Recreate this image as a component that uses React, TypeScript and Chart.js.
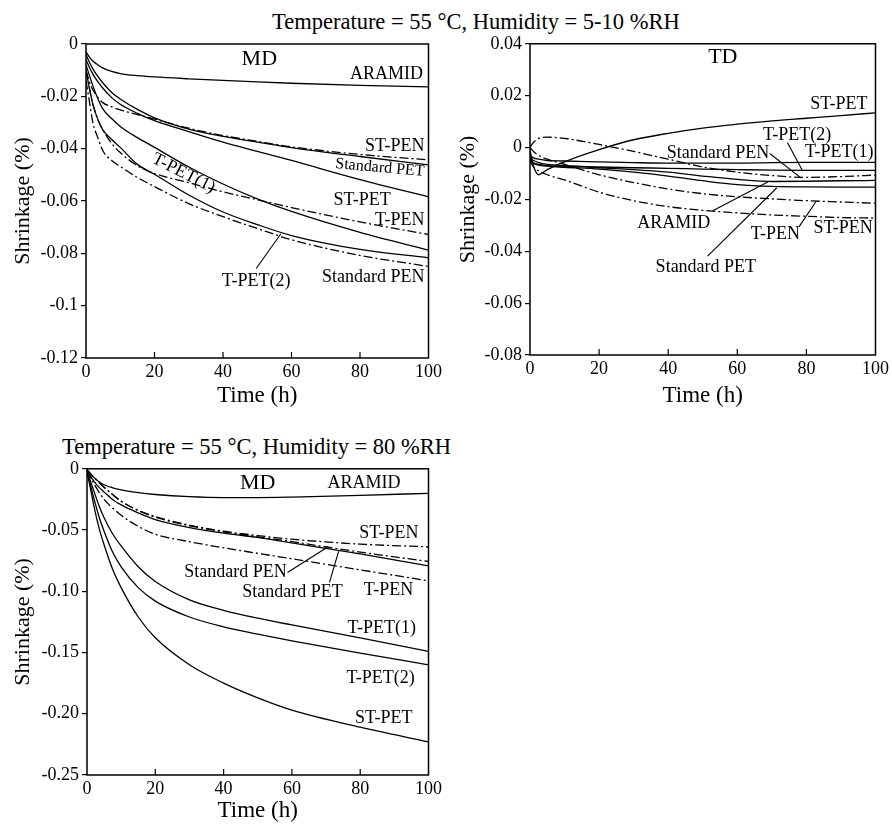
import React, { useEffect, useRef } from 'react';
import { Chart, registerables } from 'chart.js';
Chart.register(...registerables);

const SERIF = '"Liberation Serif", "Times New Roman", Times, serif';

// ---------- common axis ticks ----------
const xTickVals = [0, 20, 40, 60, 80, 100];
const xTickLabels = ['0', '20', '40', '60', '80', '100'];
const xInnerTicks = [20, 40, 60, 80];

// ---------- Panel A : MD, 55 °C, 5-10 %RH ----------
const timeA = [0, 1, 2, 3.5, 5, 7.5, 10, 15, 20, 30, 40, 50, 60, 80, 100];
const aAramid = [-0.003, -0.005, -0.0065, -0.008, -0.0092, -0.0105, -0.0113, -0.0121, -0.0126, -0.0133, -0.0139, -0.0145, -0.015, -0.0158, -0.0164];
const aStPen = [-0.01, -0.0145, -0.0175, -0.0205, -0.0225, -0.024, -0.0252, -0.027, -0.0287, -0.0322, -0.035, -0.0372, -0.0393, -0.0422, -0.0443];
const aStdPet = [-0.004, -0.007, -0.0095, -0.0125, -0.015, -0.0185, -0.021, -0.025, -0.0282, -0.0325, -0.0353, -0.0375, -0.0396, -0.043, -0.0462];
const aStPet = [-0.006, -0.009, -0.0115, -0.0145, -0.017, -0.0205, -0.023, -0.0265, -0.0293, -0.0335, -0.0375, -0.041, -0.0445, -0.0518, -0.0584];
const aTPen = [-0.01, -0.017, -0.023, -0.029, -0.033, -0.038, -0.0415, -0.0465, -0.0495, -0.053, -0.0565, -0.0595, -0.0625, -0.068, -0.0728];
const aTPet1 = [-0.008, -0.012, -0.016, -0.021, -0.025, -0.0285, -0.0315, -0.0358, -0.0395, -0.047, -0.0535, -0.0592, -0.064, -0.072, -0.0788];
const aTPet2 = [-0.01, -0.017, -0.023, -0.029, -0.033, -0.0365, -0.0395, -0.046, -0.0498, -0.0577, -0.0642, -0.069, -0.0732, -0.0785, -0.0817];
const aStdPen = [-0.014, -0.022, -0.03, -0.036, -0.041, -0.0445, -0.0468, -0.051, -0.0545, -0.061, -0.066, -0.0705, -0.0748, -0.0808, -0.085];
const yTicksA = [-0.12, -0.1, -0.08, -0.06, -0.04, -0.02, 0];
const yLabelsA = ['-0.12', '-0.1', '-0.08', '-0.06', '-0.04', '-0.02', '0'];

// ---------- Panel B : TD, 55 °C, 5-10 %RH ----------
const timeB = [0, 1, 2.5, 5, 10, 20, 30, 40, 50, 60, 70, 80, 90, 100];
const bStPet = [-0.001, -0.007, -0.0105, -0.0085, -0.0055, -0.0008, 0.003, 0.0055, 0.0075, 0.009, 0.0103, 0.0113, 0.0123, 0.0134];
const bTPet1 = [-0.003, -0.004, -0.0045, -0.005, -0.0052, -0.0055, -0.0058, -0.006, -0.006, -0.006, -0.0058, -0.0057, -0.0057, -0.0057];
const bTPet2 = [-0.004, -0.005, -0.0058, -0.0065, -0.007, -0.0075, -0.0078, -0.008, -0.0083, -0.0085, -0.0087, -0.0088, -0.0088, -0.0088];
const bAramid = [-0.005, -0.006, -0.0065, -0.007, -0.0072, -0.0078, -0.0085, -0.0095, -0.011, -0.0123, -0.0131, -0.013, -0.0128, -0.0127];
const bStdPet = [-0.004, -0.006, -0.0068, -0.0072, -0.0076, -0.0083, -0.0095, -0.011, -0.0128, -0.0143, -0.015, -0.0152, -0.0153, -0.0153];
const bStdPen = [0, 0.002, 0.0035, 0.004, 0.0035, 0.0012, -0.0015, -0.0045, -0.0075, -0.0095, -0.0108, -0.0115, -0.0112, -0.0106];
const bTPen = [0, -0.0015, -0.003, -0.0045, -0.0065, -0.0105, -0.0135, -0.016, -0.0178, -0.019, -0.0198, -0.0205, -0.021, -0.0215];
const bStPen = [-0.005, -0.0075, -0.009, -0.0105, -0.0125, -0.0172, -0.0205, -0.0228, -0.0242, -0.0252, -0.026, -0.0265, -0.027, -0.0272];
const yTicksB = [-0.08, -0.06, -0.04, -0.02, 0, 0.02, 0.04];
const yLabelsB = ['-0.08', '-0.06', '-0.04', '-0.02', '0', '0.02', '0.04'];

// ---------- Panel C : MD, 55 °C, 80 %RH ----------
const timeC = [0, 1, 2, 3.5, 5, 7.5, 10, 15, 20, 30, 40, 50, 60, 80, 100];
const cAramid = [-0.001, -0.004, -0.007, -0.0105, -0.013, -0.0155, -0.0172, -0.0195, -0.021, -0.0228, -0.0235, -0.0235, -0.0231, -0.0217, -0.02];
const cStPen = [-0.001, -0.004, -0.007, -0.011, -0.015, -0.021, -0.0265, -0.034, -0.039, -0.046, -0.051, -0.0545, -0.0575, -0.0615, -0.0637];
const cStdPen = [-0.001, -0.004, -0.007, -0.011, -0.015, -0.021, -0.0265, -0.034, -0.0395, -0.0465, -0.0515, -0.0555, -0.0595, -0.068, -0.0757];
const cStdPet = [-0.001, -0.006, -0.01, -0.015, -0.019, -0.025, -0.0295, -0.036, -0.0415, -0.048, -0.0525, -0.056, -0.0605, -0.0695, -0.0793];
const cTPen = [-0.001, -0.007, -0.012, -0.019, -0.025, -0.032, -0.038, -0.047, -0.0535, -0.0595, -0.0645, -0.069, -0.0735, -0.0825, -0.0915];
const cTPet1 = [-0.002, -0.01, -0.018, -0.03, -0.04, -0.053, -0.063, -0.08, -0.092, -0.107, -0.1155, -0.122, -0.1275, -0.138, -0.149];
const cTPet2 = [-0.002, -0.013, -0.024, -0.039, -0.051, -0.068, -0.08, -0.097, -0.108, -0.121, -0.129, -0.135, -0.1405, -0.1505, -0.16];
const cStPet = [-0.002, -0.016, -0.03, -0.048, -0.062, -0.082, -0.097, -0.121, -0.138, -0.16, -0.175, -0.187, -0.197, -0.211, -0.223];
const yTicksC = [-0.25, -0.2, -0.15, -0.1, -0.05, 0];
const yLabelsC = ['-0.25', '-0.20', '-0.15', '-0.10', '-0.05', '0'];

// ---------- titles ----------
const titleTop = 'Temperature = 55 °C, Humidity = 5-10 %RH';
const titleBottom = 'Temperature = 55 °C, Humidity = 80 %RH';
const xTitle = 'Time (h)';
const yTitle = 'Shrinkage (%)';

type Lbl = { text: string; x: number; y: number; align?: CanvasTextAlign; size?: number; rot?: number };
type Ptr = [number, number, number, number];

const panels: any[] = [
  {
    times: timeA,
    series: [
      ['ARAMID', aAramid, false], ['ST-PEN', aStPen, true], ['Standard PET', aStdPet, false],
      ['ST-PET', aStPet, false], ['T-PEN', aTPen, true], ['T-PET(1)', aTPet1, false],
      ['T-PET(2)', aTPet2, false], ['Standard PEN', aStdPen, true],
    ],
    yMin: -0.12, yMax: 0, yTicks: yTicksA, yLabels: yLabelsA,
    labels: [
      { text: 'MD', x: 50.6, y: -0.0057, size: 22 },
      { text: 'ARAMID', x: 98.4, y: -0.0117, align: 'right' },
      { text: 'ST-PEN', x: 98.8, y: -0.039, align: 'right' },
      { text: 'Standard PET', x: 98.8, y: -0.0488, align: 'right', size: 16, rot: 5 },
      { text: 'ST-PET', x: 80.6, y: -0.0596 },
      { text: 'T-PEN', x: 98.8, y: -0.0672, align: 'right' },
      { text: 'Standard PEN', x: 98.8, y: -0.089, align: 'right' },
      { text: 'T-PET(2)', x: 49.7, y: -0.0905 },
      { text: 'T-PET(1)', x: 28.5, y: -0.0494, rot: 27 },
    ] as Lbl[],
    pointers: [[49.7, -0.0858, 56.9, -0.0725]] as Ptr[],
    box: { left: 0, top: 30, width: 445, height: 380 },
    yAxisWidth: 86, xAxisHeight: 52, padTop: 14, padRight: 9,
  },
  {
    times: timeB,
    series: [
      ['ST-PET', bStPet, false], ['T-PET(1)', bTPet1, false], ['T-PET(2)', bTPet2, false],
      ['ARAMID', bAramid, false], ['Standard PET', bStdPet, false], ['Standard PEN', bStdPen, true],
      ['T-PEN', bTPen, true], ['ST-PEN', bStPen, true],
    ],
    yMin: -0.08, yMax: 0.04, yTicks: yTicksB, yLabels: yLabelsB,
    labels: [
      { text: 'TD', x: 55.8, y: 0.035, size: 22 },
      { text: 'ST-PET', x: 97.7, y: 0.0168, align: 'right' },
      { text: 'T-PET(2)', x: 77.3, y: 0.0046 },
      { text: 'T-PET(1)', x: 99.4, y: -0.0019, align: 'right' },
      { text: 'Standard PEN', x: 54.4, y: -0.0023 },
      { text: 'ARAMID', x: 41.6, y: -0.0293 },
      { text: 'Standard PET', x: 50.9, y: -0.0461 },
      { text: 'T-PEN', x: 71.0, y: -0.0335 },
      { text: 'ST-PEN', x: 99.2, y: -0.0313, align: 'right' },
    ] as Lbl[],
    pointers: [
      [74.5, 0.0019, 78.8, -0.0088],
      [69.4, -0.0023, 78.5, -0.0118],
      [52.9, -0.0244, 68.8, -0.0133],
      [51.4, -0.0419, 71.4, -0.0156],
      [77.9, -0.0305, 82.7, -0.021],
    ] as Ptr[],
    box: { left: 445, top: 30, width: 447, height: 380 },
    yAxisWidth: 85, xAxisHeight: 55, padTop: 10, padRight: 9,
  },
  {
    times: timeC,
    series: [
      ['ARAMID', cAramid, false], ['ST-PEN', cStPen, true], ['Standard PEN', cStdPen, true],
      ['Standard PET', cStdPet, false], ['T-PEN', cTPen, true], ['T-PET(1)', cTPet1, false],
      ['T-PET(2)', cTPet2, false], ['ST-PET', cStPet, false],
    ],
    yMin: -0.25, yMax: 0, yTicks: yTicksC, yLabels: yLabelsC,
    labels: [
      { text: 'MD', x: 50, y: -0.0121, size: 22 },
      { text: 'ARAMID', x: 81.1, y: -0.0121 },
      { text: 'ST-PEN', x: 97.1, y: -0.0524, align: 'right' },
      { text: 'Standard PEN', x: 43.5, y: -0.0847 },
      { text: 'Standard PET', x: 60.2, y: -0.1008 },
      { text: 'T-PEN', x: 88.3, y: -0.0992 },
      { text: 'T-PET(1)', x: 86.3, y: -0.1306 },
      { text: 'T-PET(2)', x: 86, y: -0.171 },
      { text: 'ST-PET', x: 86.9, y: -0.204 },
    ] as Lbl[],
    pointers: [
      [58.7, -0.0847, 70.6, -0.0637],
      [71.0, -0.0927, 73.7, -0.0672],
    ] as Ptr[],
    box: { left: 0, top: 455, width: 445, height: 370 },
    yAxisWidth: 87, xAxisHeight: 50, padTop: 10, padRight: 8,
  },
];

function Panel({ p }: { p: any }) {
  const ref = useRef<HTMLCanvasElement>(null);
  useEffect(() => {
    const overlay = {
      id: 'overlay',
      afterDatasetsDraw(chart: any) {
        const { ctx, chartArea: a, scales } = chart;
        const xs = scales.x;
        const ys = scales.y;
        ctx.save();
        ctx.setLineDash([]);
        ctx.strokeStyle = '#000';
        ctx.lineWidth = 1.5;
        ctx.strokeRect(a.left, a.top, a.right - a.left, a.bottom - a.top);
        ctx.lineWidth = 1.2;
        for (const v of xInnerTicks) {
          const px = xs.getPixelForValue(v);
          ctx.beginPath();
          ctx.moveTo(px, a.bottom);
          ctx.lineTo(px, a.bottom - 6);
          ctx.stroke();
        }
        ctx.lineWidth = 1.1;
        for (const pt of p.pointers) {
          ctx.beginPath();
          ctx.moveTo(xs.getPixelForValue(pt[0]), ys.getPixelForValue(pt[1]));
          ctx.lineTo(xs.getPixelForValue(pt[2]), ys.getPixelForValue(pt[3]));
          ctx.stroke();
        }
        ctx.fillStyle = '#000';
        ctx.textBaseline = 'middle';
        for (const l of p.labels) {
          ctx.save();
          ctx.font = `normal ${l.size ?? 18}px ${SERIF}`;
          ctx.translate(xs.getPixelForValue(l.x), ys.getPixelForValue(l.y));
          if (l.rot) ctx.rotate((l.rot * Math.PI) / 180);
          ctx.textAlign = l.align ?? 'center';
          ctx.fillText(l.text, 0, 0);
          ctx.restore();
        }
        ctx.restore();
      },
    };
    const chart = new Chart(ref.current as HTMLCanvasElement, {
      type: 'line',
      data: {
        datasets: p.series.map((s: any) => ({
          label: s[0],
          data: p.times.map((t: number, i: number) => ({ x: t, y: s[1][i] })),
          borderColor: '#000',
          borderWidth: 1.3,
          borderDash: s[2] ? [9, 3, 2, 3] : [],
          pointRadius: 0,
          fill: false,
          cubicInterpolationMode: 'monotone',
        })),
      },
      options: {
        responsive: false,
        animation: false,
        devicePixelRatio: 1,
        layout: { padding: { top: p.padTop, right: p.padRight, left: 0, bottom: 0 } },
        plugins: { legend: { display: false }, tooltip: { enabled: false }, title: { display: false } },
        scales: {
          x: {
            type: 'linear',
            min: 0,
            max: 100,
            afterBuildTicks: (s: any) => { s.ticks = xTickVals.map((v) => ({ value: v })); },
            afterFit: (s: any) => { s.height = p.xAxisHeight; },
            grid: { display: false, drawTicks: false },
            border: { display: false },
            ticks: {
              font: { family: SERIF, size: 18, weight: 'normal' },
              color: '#000',
              padding: 3,
              maxRotation: 0,
              autoSkip: false,
              callback: (_v: any, i: number) => xTickLabels[i],
            },
            title: {
              display: true,
              text: xTitle,
              color: '#000',
              font: { family: SERIF, size: 23, weight: 'normal' },
              padding: { top: 0, bottom: 0 },
            },
          },
          y: {
            type: 'linear',
            min: p.yMin,
            max: p.yMax,
            afterBuildTicks: (s: any) => { s.ticks = p.yTicks.map((v: number) => ({ value: v })); },
            afterFit: (s: any) => { s.width = p.yAxisWidth; },
            grid: { display: true, drawOnChartArea: false, drawTicks: true, tickLength: 5, color: '#000', lineWidth: 1.2 },
            border: { display: false },
            ticks: {
              font: { family: SERIF, size: 18, weight: 'normal' },
              color: '#000',
              padding: 3,
              autoSkip: false,
              callback: (_v: any, i: number) => p.yLabels[i],
            },
            title: {
              display: true,
              text: yTitle,
              color: '#000',
              font: { family: SERIF, size: 22, weight: 'normal' },
              padding: { top: 10, bottom: 0 },
            },
          },
        },
      } as any,
      plugins: [overlay],
    });
    return () => chart.destroy();
  }, [p]);
  return (
    <canvas
      ref={ref}
      width={p.box.width}
      height={p.box.height}
      style={{ position: 'absolute', left: p.box.left, top: p.box.top, width: p.box.width, height: p.box.height }}
    />
  );
}

export default function App() {
  const titleStyle: React.CSSProperties = {
    position: 'absolute',
    fontFamily: SERIF,
    fontSize: 22.5,
    lineHeight: '26px',
    whiteSpace: 'nowrap',
    color: '#000',
  };
  return (
    <div style={{ position: 'absolute', left: 0, top: 0, width: 892, height: 825, background: '#fff', overflow: 'hidden' }}>
      <div style={{ ...titleStyle, left: 272, top: 9 }}>{titleTop}</div>
      <div style={{ ...titleStyle, left: 62, top: 434 }}>{titleBottom}</div>
      {panels.map((p, i) => (
        <Panel key={i} p={p} />
      ))}
    </div>
  );
}
